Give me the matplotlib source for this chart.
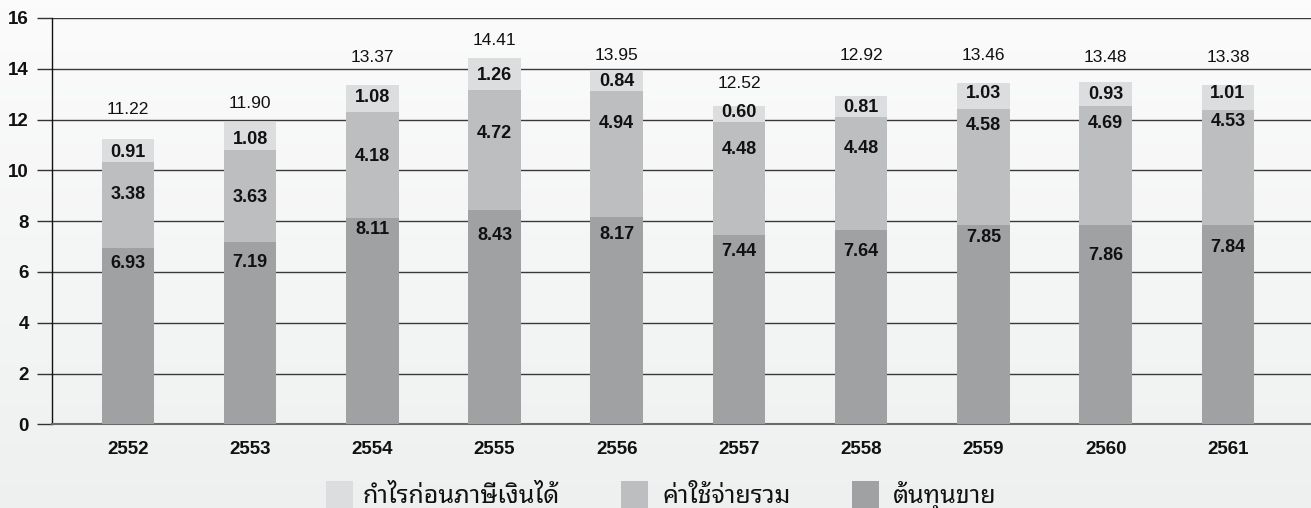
import numpy as np
import matplotlib
matplotlib.use("Agg")
import matplotlib.pyplot as plt
from matplotlib.patches import Rectangle

# ข้อมูล (พันล้านบาท)
years = ['2552', '2553', '2554', '2555', '2556', '2557', '2558', '2559', '2560', '2561']
cost_of_sales = [6.93, 7.19, 8.11, 8.43, 8.17, 7.44, 7.64, 7.85, 7.86, 7.84]
total_expenses = [3.38, 3.63, 4.18, 4.72, 4.94, 4.48, 4.48, 4.58, 4.69, 4.53]
profit_before_tax = [0.91, 1.08, 1.08, 1.26, 0.84, 0.60, 0.81, 1.03, 0.93, 1.01]
totals = [11.22, 11.90, 13.37, 14.41, 13.95, 12.52, 12.92, 13.46, 13.48, 13.38]

legend_labels = ['กำไรก่อนภาษีเงินได้', 'ค่าใช้จ่ายรวม', 'ต้นทุนขาย']

# where the value labels sit (data units, text centre)
cost_label_y = [6.35, 6.38, 7.68, 7.44, 7.48, 6.81, 6.81, 7.37, 6.66, 6.95]
exp_label_y = [9.05, 8.94, 10.53, 11.46, 11.85, 10.82, 10.86, 11.77, 11.86, 11.92]
profit_label_y = [10.70, 11.22, 12.88, 13.73, 13.50, 12.28, 12.47, 13.02, 12.98, 13.02]
total_label_y = [12.40, 12.65, 14.45, 15.11, 14.52, 13.41, 14.52, 14.52, 14.45, 14.45]

c_light = '#dcdddf'
c_mid = '#bdbec0'
c_dark = '#a0a1a3'

num_font = ['Liberation Sans', 'DejaVu Sans']
thai_font = ['Noto Sans Thai Looped', 'Sarabun', 'Noto Sans Thai', 'DejaVu Sans']

W, H = 1311, 508
fig = plt.figure(figsize=(W / 100, H / 100), dpi=100)

# background gradient
bg = fig.add_axes([0, 0, 1, 1], zorder=-10)
grad = np.linspace(0, 1, 256).reshape(-1, 1)
top = np.array([0.985, 0.985, 0.985])
bot = np.array([0.935, 0.941, 0.941])
img = top + (bot - top) * grad[:, :, None]
bg.imshow(img, aspect='auto', extent=[0, 1, 0, 1], origin='upper')
bg.axis('off')

ax = fig.add_axes([52 / W, 1 - 424.3 / H, 1 - 52 / W, (424.3 - 18) / H])
ax.set_facecolor('none')

x = np.arange(len(years))
bw = 0.43
bottom2 = np.array(cost_of_sales)
bottom3 = bottom2 + np.array(total_expenses)
ax.bar(x, cost_of_sales, bw, color=c_dark, zorder=3)
ax.bar(x, total_expenses, bw, bottom=bottom2, color=c_mid, zorder=3)
ax.bar(x, profit_before_tax, bw, bottom=bottom3, color=c_light, zorder=3)

for i in range(len(years)):
    ax.text(x[i], cost_label_y[i], f'{cost_of_sales[i]:.2f}', ha='center', va='center',
            fontsize=13, fontweight='bold', family=num_font, color='#111', zorder=4)
    ax.text(x[i], exp_label_y[i], f'{total_expenses[i]:.2f}', ha='center', va='center',
            fontsize=13, fontweight='bold', family=num_font, color='#111', zorder=4)
    ax.text(x[i], profit_label_y[i], f'{profit_before_tax[i]:.2f}', ha='center', va='center',
            fontsize=13, fontweight='bold', family=num_font, color='#111', zorder=4)
    ax.text(x[i], total_label_y[i], f'{totals[i]:.2f}', ha='center', va='center',
            fontsize=12.5, family=num_font, color='#111', zorder=4)

ax.set_xlim(-0.62, 9.68)
ax.set_ylim(0, 16)
ax.set_yticks(range(0, 17, 2))
ax.set_xticks(x)
ax.set_xticklabels(years)
for lab in ax.get_xticklabels() + ax.get_yticklabels():
    lab.set_family(num_font)
    lab.set_fontweight('bold')
    lab.set_fontsize(13.5)
    lab.set_color('#111')
ax.tick_params(axis='x', length=0, pad=12)
ax.tick_params(axis='y', length=10.8, width=1, color='#333', pad=6)
ax.yaxis.grid(True, color='#3a3a3a', linewidth=1, zorder=1)
ax.set_axisbelow(True)
for s in ['top', 'right']:
    ax.spines[s].set_visible(False)
ax.spines['left'].set_color('#111')
ax.spines['left'].set_linewidth(1)
ax.spines['bottom'].set_color('#6a6a6a')
ax.spines['bottom'].set_linewidth(1.5)

# legend drawn by hand (the columns are spaced unevenly)
sq_left = [326, 621, 852]
txt_left = [363, 662, 893]
for col, sl, tl, lab in zip([c_light, c_mid, c_dark], sq_left, txt_left, legend_labels):
    fig.patches.append(Rectangle((sl / W, 0), 27 / W, 27 / H, transform=fig.transFigure,
                                 facecolor=col, edgecolor='none'))
    fig.text(tl / W, 5 / H, lab, ha='left', va='baseline', fontsize=18,
             family=thai_font, color='#111')

fig.savefig('out.png', dpi=100)
